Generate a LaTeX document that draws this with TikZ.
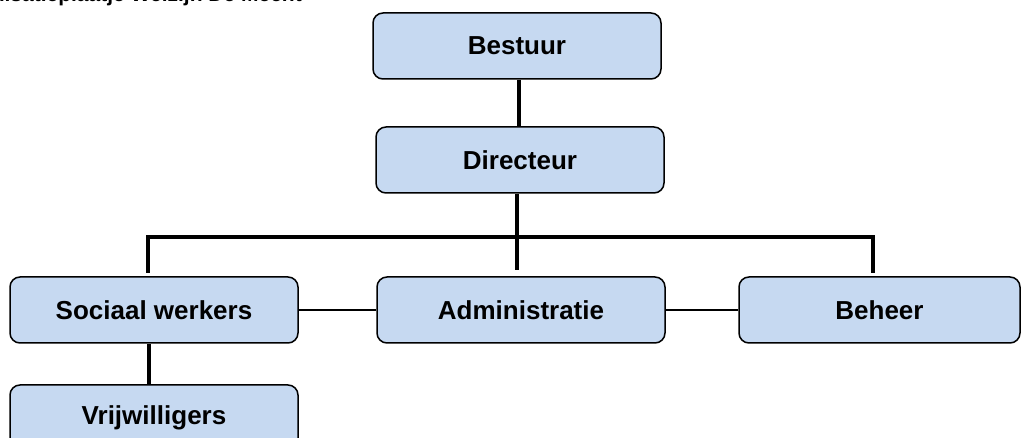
\documentclass[tikz,border=0pt]{standalone}
\usepackage{fontspec}
\setmainfont{Liberation Sans}
\definecolor{boxfill}{HTML}{C6D9F1}
\begin{document}
\begin{tikzpicture}[x=1pt,y=-1pt,
  orgbox/.style={draw=black, line width=1.5pt, fill=boxfill, rounded corners=10pt,
    minimum width=288pt, minimum height=66pt, inner sep=0pt,
    font=\fontsize{26}{30}\selectfont\bfseries},
  thickline/.style={line width=4pt},
  thinline/.style={line width=2pt}]
\clip (0,0) rectangle (1021,438);
\useasboundingbox (0,0) rectangle (1021,438);
\node[anchor=base east, font=\fontsize{21}{25}\selectfont\bfseries, inner sep=0pt] (title) at (302,2) {Organisatieplaatje Welzijn De Meent};
\node[orgbox] (bestuur) at (517,46) {Bestuur};
\node[orgbox] (directeur) at (520,160) {Directeur};
\node[orgbox] (sociaal) at (154,310) {Sociaal werkers};
\node[orgbox] (admin) at (521,310) {Administratie};
\node[orgbox, minimum width=281pt] (beheer) at (879.5,310) {Beheer};
\node[orgbox] (vrij) at (154,418) {Vrijwilligers};
\coordinate (busl) at (148,237);
\coordinate (busr) at (873,237);
\draw[thickline] (bestuur.south -| 519,0) -- (directeur.north -| 519,0);
\draw[thickline] (directeur.south -| 517,0) -- (517,270);
\draw[thickline] (148,273) -- (busl) -- (busr) -- (873,273);
\draw[thickline] (sociaal.south -| 149,0) -- (vrij.north -| 149,0);
\draw[thinline] (sociaal.east) -- (admin.west);
\draw[thinline] (admin.east) -- (beheer.west);
\end{tikzpicture}
\end{document}
